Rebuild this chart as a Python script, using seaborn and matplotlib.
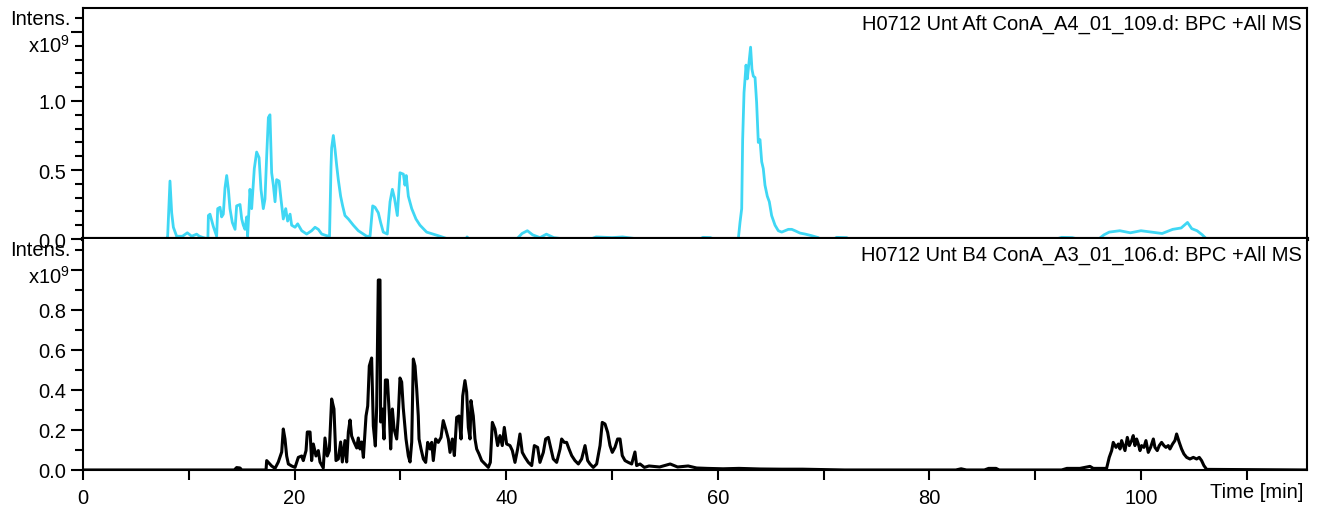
import numpy as np
import pandas as pd
import matplotlib
matplotlib.use('Agg')
import matplotlib.pyplot as plt
import seaborn as sns

#########   Data (time in min, intensity in 1e9)   #########

top_time = [7.9, 8.0, 8.22, 8.38, 8.54, 8.85, 9.4, 9.86, 10.27, 10.74, 11.0, 11.37, 11.8,
            11.85, 12.0, 12.32, 12.63, 12.73, 12.95, 13.1, 13.26, 13.42, 13.58, 13.74, 13.89,
            14.11, 14.37, 14.52, 14.84, 15.0, 15.15, 15.31, 15.47, 15.56, 15.78, 15.94, 16.19,
            16.41, 16.64, 16.82, 17.04, 17.2, 17.36, 17.52, 17.67, 17.83, 17.99, 18.15, 18.3,
            18.53, 18.71, 18.93, 19.16, 19.34, 19.57, 19.72, 20.04, 20.29, 20.67, 21.14, 21.61,
            21.93, 22.24, 22.56, 23.03, 23.3, 23.44, 23.5, 23.66, 23.82, 23.98, 24.13, 24.35,
            24.54, 24.76, 25.08, 25.55, 26.02, 26.81, 27.13, 27.38, 27.6, 27.91, 28.13, 28.38,
            28.76, 29.02, 29.24, 29.43, 29.71, 29.96, 30.28, 30.43, 30.55, 30.75, 31.07, 31.47,
            31.85, 32.48, 33.74, 34.5, 36.2, 36.3, 36.5, 41.0, 41.5, 42.0, 42.5, 43.2, 43.8,
            44.5, 45.5, 48.0, 48.5, 50.0, 51.0, 52.5, 58.3, 58.6, 59.3, 59.6, 61.94, 62.1,
            62.26, 62.35, 62.48, 62.67, 62.79, 62.95, 63.1, 63.23, 63.36, 63.52, 63.67, 63.83,
            63.99, 64.15, 64.3, 64.46, 64.68, 64.87, 65.09, 65.41, 65.72, 66.04, 66.35, 66.67,
            66.99, 67.3, 67.77, 68.24, 68.87, 69.5, 69.66, 71.0, 71.23, 72.18, 72.4, 92.0,
            92.5, 93.5, 94.0, 96.0, 96.5, 97.0, 98.0, 99.0, 100.0, 101.0, 102.0, 103.0, 103.8,
            104.4, 104.8, 105.3, 105.8, 106.2, 115.7]
top_intens = [0.0, 0.02, 0.42, 0.19, 0.085, 0.02, 0.02, 0.045, 0.02, 0.035, 0.02, 0.01, 0.0,
              0.17, 0.18, 0.09, 0.02, 0.22, 0.23, 0.16, 0.18, 0.37, 0.46, 0.36, 0.22,
              0.12, 0.07, 0.24, 0.25, 0.145, 0.10, 0.07, 0.16, 0.02, 0.36, 0.22, 0.51,
              0.63, 0.59, 0.36, 0.22, 0.29, 0.60, 0.88, 0.90, 0.48, 0.39, 0.27, 0.43,
              0.42, 0.29, 0.145, 0.22, 0.13, 0.18, 0.10, 0.085, 0.11, 0.06, 0.036, 0.06,
              0.085, 0.07, 0.036, 0.024, 0.02, 0.52, 0.66, 0.75, 0.65, 0.53, 0.43, 0.31,
              0.24, 0.17, 0.145, 0.10, 0.06, 0.02, 0.02, 0.24, 0.23, 0.19, 0.12, 0.05,
              0.036, 0.27, 0.36, 0.30, 0.17, 0.48, 0.47, 0.39, 0.46, 0.31, 0.22, 0.145,
              0.10, 0.05, 0.02, 0.0, 0.0, 0.015, 0.0, 0.0, 0.04, 0.06, 0.03, 0.01, 0.035,
              0.01, 0.0, 0.0, 0.015, 0.01, 0.015, 0.0, 0.0, 0.012, 0.01, 0.0, 0.0, 0.12,
              0.22, 0.72, 1.06, 1.26, 1.16, 1.28, 1.39, 1.23, 1.18, 1.17, 0.99, 0.70,
              0.72, 0.56, 0.51, 0.39, 0.31, 0.27, 0.17, 0.10, 0.06, 0.05, 0.06, 0.07,
              0.07, 0.06, 0.043, 0.036, 0.024, 0.01, 0.0, 0.0, 0.012, 0.01, 0.0, 0.0,
              0.012, 0.01, 0.0, 0.0, 0.03, 0.05, 0.06, 0.045, 0.06, 0.05, 0.04, 0.07, 0.08,
              0.12, 0.075, 0.06, 0.03, 0.0, 0.0]

bottom_time = [0.0, 14.3, 14.52, 14.84, 15.0, 17.3, 17.36, 17.83, 18.15, 18.46, 18.78, 18.93,
               19.09, 19.25, 19.41, 19.72, 20.04, 20.35, 20.67, 20.82, 21.08, 21.2, 21.46,
               21.61, 21.77, 22.02, 22.24, 22.4, 22.71, 22.87, 23.09, 23.28, 23.5, 23.72,
               23.91, 24.13, 24.35, 24.51, 24.76, 24.92, 25.08, 25.24, 25.39, 25.61, 25.87,
               26.02, 26.18, 26.34, 26.5, 26.75, 26.91, 27.06, 27.28, 27.44, 27.63, 27.76,
               27.91, 28.07, 28.13, 28.29, 28.45, 28.58, 28.77, 28.96, 29.08, 29.24, 29.4,
               29.65, 29.8, 29.96, 30.12, 30.27, 30.53, 30.75, 30.91, 31.07, 31.22, 31.38,
               31.54, 31.69, 31.76, 31.95, 32.17, 32.39, 32.58, 32.8, 32.96, 33.11, 33.33,
               33.58, 33.84, 34.05, 34.28, 34.53, 34.69, 34.91, 35.1, 35.32, 35.54, 35.73,
               35.89, 36.1, 36.26, 36.42, 36.58, 36.67, 36.89, 37.05, 37.21, 37.43, 37.68,
               38.0, 38.31, 38.5, 38.69, 38.94, 39.19, 39.41, 39.63, 39.82, 40.04, 40.36,
               40.58, 40.83, 41.08, 41.3, 41.52, 41.78, 42.09, 42.41, 42.66, 42.97, 43.19,
               43.51, 43.73, 43.98, 44.23, 44.45, 44.77, 45.09, 45.24, 45.49, 45.71, 45.94,
               46.19, 46.5, 46.82, 47.13, 47.45, 47.7, 47.92, 48.23, 48.55, 48.87, 49.08,
               49.34, 49.59, 49.81, 50.03, 50.28, 50.53, 50.76, 50.97, 51.23, 51.54, 51.86,
               52.17, 52.33, 52.65, 53.06, 53.5, 54.5, 55.5, 56.2, 57.2, 58.0, 59.0, 60.5,
               62.0, 64.0, 66.0, 68.0, 70.0, 72.0, 82.5, 83.0, 83.5, 85.2, 85.6, 86.3, 86.6,
               92.5, 93.0, 94.23, 95.18, 95.49, 96.75, 97.0, 97.23, 97.38, 97.64, 97.86,
               98.02, 98.17, 98.33, 98.49, 98.71, 98.9, 99.12, 99.27, 99.43, 99.59, 99.75,
               99.91, 100.06, 100.28, 100.47, 100.69, 100.91, 101.17, 101.32, 101.54,
               101.73, 101.95, 102.17, 102.36, 102.58, 102.74, 102.99, 103.21, 103.37,
               103.62, 103.84, 104.06, 104.32, 104.63, 104.95, 105.26, 105.51, 105.73,
               105.95, 106.21, 115.7]
bottom_intens = [0.0, 0.0, 0.012, 0.01, 0.0, 0.0, 0.047, 0.02, 0.008, 0.04, 0.09, 0.205,
                 0.155, 0.07, 0.03, 0.02, 0.013, 0.063, 0.07, 0.047, 0.097, 0.19, 0.19,
                 0.047, 0.13, 0.07, 0.097, 0.04, 0.01, 0.16, 0.07, 0.097, 0.355, 0.305,
                 0.047, 0.055, 0.14, 0.04, 0.147, 0.04, 0.19, 0.25, 0.17, 0.14, 0.11,
                 0.16, 0.105, 0.14, 0.063, 0.27, 0.32, 0.52, 0.56, 0.22, 0.12, 0.32,
                 0.95, 0.95, 0.24, 0.305, 0.155, 0.45, 0.45, 0.27, 0.105, 0.305, 0.205,
                 0.155, 0.27, 0.46, 0.44, 0.31, 0.155, 0.07, 0.04, 0.14, 0.555, 0.52,
                 0.405, 0.27, 0.155, 0.105, 0.055, 0.038, 0.138, 0.105, 0.138, 0.047, 0.155,
                 0.138, 0.163, 0.247, 0.205, 0.155, 0.088, 0.155, 0.072, 0.263, 0.27, 0.155,
                 0.37, 0.447, 0.39, 0.213, 0.155, 0.347, 0.27, 0.155, 0.105, 0.08, 0.047,
                 0.03, 0.013, 0.038, 0.238, 0.205, 0.122, 0.172, 0.122, 0.213, 0.13, 0.122,
                 0.097, 0.038, 0.105, 0.18, 0.088, 0.063, 0.038, 0.022, 0.122, 0.113, 0.038,
                 0.088, 0.155, 0.163, 0.105, 0.055, 0.038, 0.105, 0.155, 0.138, 0.138, 0.105,
                 0.072, 0.047, 0.03, 0.055, 0.122, 0.047, 0.03, 0.013, 0.03, 0.122, 0.238,
                 0.23, 0.188, 0.122, 0.088, 0.113, 0.155, 0.155, 0.072, 0.047, 0.038, 0.03,
                 0.09, 0.022, 0.03, 0.013, 0.02, 0.015, 0.03, 0.015, 0.02, 0.01, 0.008, 0.006,
                 0.008, 0.005, 0.004, 0.004, 0.002, 0.0, 0.0, 0.006, 0.0, 0.0, 0.008, 0.008, 0.0,
                 0.0, 0.008, 0.008, 0.018, 0.008, 0.008, 0.063, 0.097, 0.138, 0.113, 0.13,
                 0.105, 0.147, 0.122, 0.097, 0.163, 0.122, 0.147, 0.172, 0.122, 0.155, 0.13,
                 0.097, 0.122, 0.113, 0.147, 0.088, 0.113, 0.155, 0.113, 0.097,
                 0.122, 0.138, 0.122, 0.113, 0.122, 0.105, 0.13, 0.147, 0.18,
                 0.138, 0.105, 0.08, 0.063, 0.055, 0.063, 0.055, 0.063, 0.047,
                 0.022, 0.003, 0.0]

top_title = 'H0712 Unt Aft ConA_A4_01_109.d: BPC +All MS'
bottom_title = 'H0712 Unt B4 ConA_A3_01_106.d: BPC +All MS'

#########   Style   #########
sns.set_style('ticks')
plt.rcParams['font.family'] = ['Liberation Sans', 'DejaVu Sans']
plt.rcParams['mathtext.fontset'] = 'custom'
plt.rcParams['mathtext.rm'] = 'Liberation Sans'
plt.rcParams['mathtext.it'] = 'Liberation Sans'
for key in ['text.color', 'axes.labelcolor', 'xtick.color', 'ytick.color', 'axes.edgecolor']:
    plt.rcParams[key] = 'black'
fsize = 14.5
cyan = '#3fd7f4'
xmax = 115.7

fig = plt.figure(figsize=(13.22, 5.10), dpi=100)
ax_top = fig.add_axes([0.0628, 0.5294, 0.9259, 0.4530])
ax_bot = fig.add_axes([0.0628, 0.0765, 0.9259, 0.4529])

top_df = pd.DataFrame({'time': top_time, 'intens': top_intens})
bot_df = pd.DataFrame({'time': bottom_time, 'intens': bottom_intens})

sns.lineplot(data=top_df, x='time', y='intens', ax=ax_top, color=cyan, lw=2,
             estimator=None, sort=False)
sns.lineplot(data=bot_df, x='time', y='intens', ax=ax_bot, color='black', lw=2.2,
             estimator=None, sort=False)

# label offsets (x in axes fraction, so text sits just left of the ticks)
lab_x = -0.0105

# top panel
ax_top.set_xlim(0, xmax)
ax_top.set_ylim(0, 1.674)
ax_top.set_yticks([0, 0.5, 1.0, 1.5])
ax_top.set_yticklabels(['0.0', '0.5', '1.0', ''])
ax_top.set_yticks(np.arange(0, 1.65, 0.1), minor=True)
ax_top.set_xticks([])
ax_top.text(lab_x, 1.6, 'Intens.', transform=ax_top.get_yaxis_transform(),
            ha='right', va='center', fontsize=fsize)
ax_top.text(lab_x, 1.357, 'x10$^{9}$', transform=ax_top.get_yaxis_transform(),
            ha='right', va='baseline', fontsize=fsize)
ax_top.text(0.9955, 0.975, top_title, transform=ax_top.transAxes,
            ha='right', va='top', fontsize=fsize)
for side in ['left', 'top', 'right']:
    ax_top.spines[side].set_linewidth(1.5)
ax_top.spines['bottom'].set_linewidth(3)

# bottom panel
ax_bot.set_xlim(0, xmax)
ax_bot.set_ylim(0, 1.155)
ax_bot.set_yticks([0, 0.2, 0.4, 0.6, 0.8, 1.0])
ax_bot.set_yticklabels(['0.0', '0.2', '0.4', '0.6', '0.8', ''])
ax_bot.set_yticks(np.arange(0, 1.15, 0.1), minor=True)
ax_bot.set_xticks(np.arange(0, 111, 10))
ax_bot.set_xticklabels(['0', '', '20', '', '40', '', '60', '', '80', '', '100', ''])
ax_bot.text(110.9, -0.095, 'Time [min]', transform=ax_bot.get_xaxis_transform(),
            ha='center', va='center', fontsize=fsize)
ax_bot.text(lab_x, 1.105, 'Intens.', transform=ax_bot.get_yaxis_transform(),
            ha='right', va='center', fontsize=fsize)
ax_bot.text(lab_x, 0.935, 'x10$^{9}$', transform=ax_bot.get_yaxis_transform(),
            ha='right', va='baseline', fontsize=fsize)
ax_bot.text(0.9955, 0.975, bottom_title, transform=ax_bot.transAxes,
            ha='right', va='top', fontsize=fsize)
ax_bot.spines['top'].set_visible(False)
for side in ['left', 'right', 'bottom']:
    ax_bot.spines[side].set_linewidth(1.5)

for ax in [ax_top, ax_bot]:
    ax.set_xlabel('')
    ax.set_ylabel('')
    ax.tick_params(axis='both', which='major', length=9, width=1.5, labelsize=fsize,
                   direction='out', pad=3)
    ax.tick_params(axis='y', which='minor', length=6, width=1.5, direction='out')
    ax.set_facecolor('white')
ax_bot.tick_params(axis='x', which='major', length=7, pad=6)

plt.savefig('out.png', dpi=100, facecolor='white')
